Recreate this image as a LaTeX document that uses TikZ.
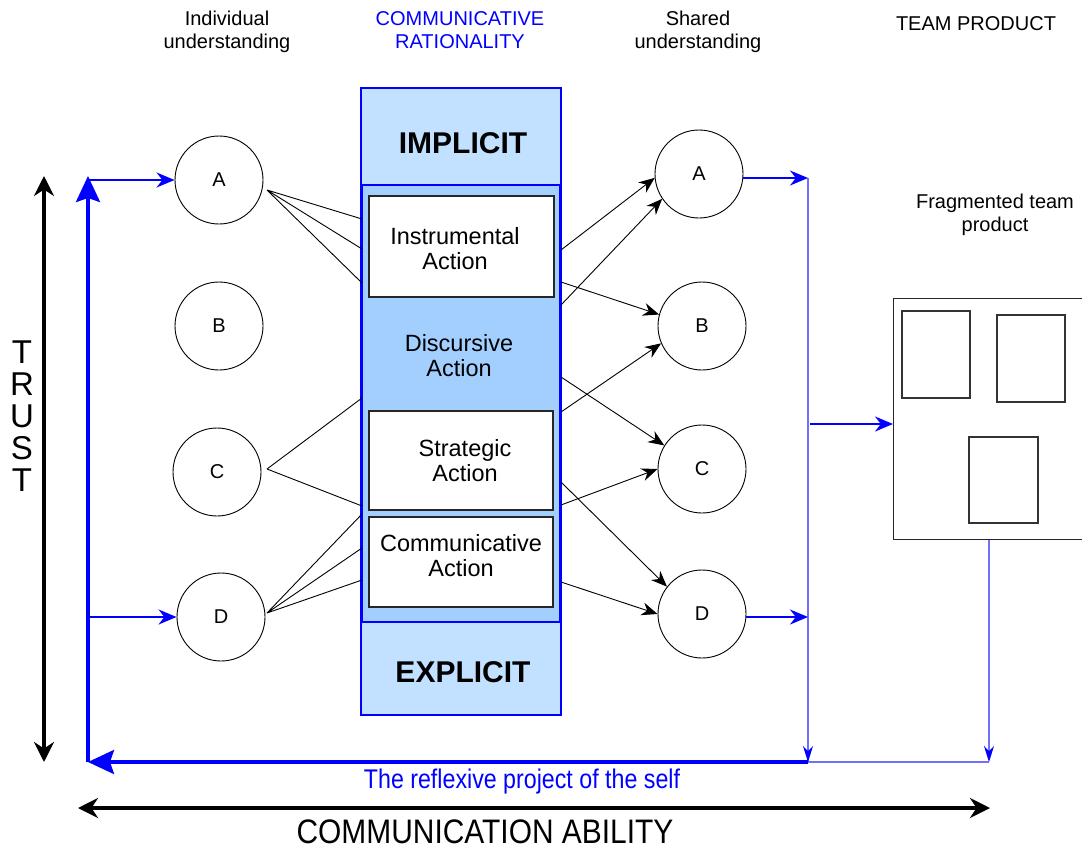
\documentclass[tikz,border=0pt]{standalone}
\usepackage{fontspec}
\setmainfont{Liberation Sans}
\usetikzlibrary{arrows.meta,calc}
\definecolor{colfill}{HTML}{A3CFFF}
\definecolor{hatchfill}{HTML}{C2E0FF}
\definecolor{lblue}{HTML}{7070FF}
\begin{document}
\begin{tikzpicture}[x=1pt,y=-1pt,
  circ/.style={circle,draw,line width=0.9pt,minimum size=88pt,inner sep=0pt,font=\fontsize{20}{23}\selectfont},
  actbox/.style={draw=black!85,line width=1.2pt,fill=white,inner sep=0pt},
  lbl/.style={align=center,font=\fontsize{20}{23}\selectfont},
  acttxt/.style={align=center,font=\fontsize{23.5}{25}\selectfont},
  bigtxt/.style={font=\fontsize{30}{32}\selectfont\bfseries},
  fan/.style={line width=0.9pt},
  blk/.style={line width=0.9pt,-{Stealth[length=16pt,width=13pt]}},
  bthick/.style={blue,line width=3.5pt},
  bmid/.style={blue,line width=2pt,-{Stealth[length=18pt,width=15pt]}},
  bthin/.style={lblue,line width=1.2pt},
  bthinarr/.style={lblue,line width=1.2pt,-{Stealth[length=16pt,width=10pt,color=blue]}},
  dbl/.style={line width=4pt,{Stealth[length=20pt,width=20pt]}-{Stealth[length=20pt,width=20pt]}},
  inbox/.style={draw=black!80,line width=1.2pt,inner sep=0pt}
]
\useasboundingbox (0,0) rectangle (1082,849);
\clip (0,0) rectangle (1082,849);

% headers
\node[lbl] (h1) at (227,32) {Individual\\understanding};
\node[lbl,text=blue] (h2) at (460,30) {COMMUNICATIVE\\RATIONALITY};
\node[lbl] (h3) at (698,32) {Shared\\understanding};
\node[lbl] (h4) at (976,24) {TEAM PRODUCT};

% central column
\fill[hatchfill] (361,88) rectangle (561,715);
\draw[blue,line width=2.5pt,fill=colfill] (362,185) rectangle (560,622);
\draw[blue,line width=2.5pt] (361,88) rectangle (561,715);
\node[bigtxt] (impl) at (463,143) {IMPLICIT};
\node[bigtxt] (expl) at (463,672) {EXPLICIT};

\node[actbox,minimum width=185pt,minimum height=101pt] (ibox) at (461.5,246.5) {};
\node[actbox,minimum width=184pt,minimum height=99pt] (sbox) at (461,460.5) {};
\node[actbox,minimum width=184pt,minimum height=90pt] (cbox) at (461,562) {};
\node[acttxt] (itxt) at (455,249) {Instrumental\\Action};
\node[acttxt] (dtxt) at (459,356) {Discursive\\Action};
\node[acttxt] (stxt) at (465,461) {Strategic\\Action};
\node[acttxt] (ctxt) at (461,556) {Communicative\\Action};

% circles
\node[circ] (la) at (219,180) {A};
\node[circ] (lb) at (219,326) {B};
\node[circ] (lc) at (217,472) {C};
\node[circ] (ld) at (221,617) {D};
\node[circ] (ra) at (699,174) {A};
\node[circ] (rb) at (702,326) {B};
\node[circ] (rc) at (702,469) {C};
\node[circ] (rd) at (702,614) {D};

% fan coordinates
\coordinate (fa) at (267,190);
\coordinate (a1) at (362,219);
\coordinate (a2) at (362,249);
\coordinate (a3) at (362,283);
\coordinate (fc) at (267,469);
\coordinate (c1) at (362,398);
\coordinate (c2) at (362,506);
\coordinate (fd) at (267,613);
\coordinate (d1) at (362,514);
\coordinate (d2) at (362,548);
\coordinate (d3) at (362,580);
\draw[fan] (fa) -- (a1) (fa) -- (a2) (fa) -- (a3);
\draw[fan] (fc) -- (c1) (fc) -- (c2);
\draw[fan] (fd) -- (d1) (fd) -- (d2) (fd) -- (d3);

% right arrows
\coordinate (s1) at (561,250);
\coordinate (s2) at (561,305);
\coordinate (s3) at (561,282);
\coordinate (s4) at (561,412);
\coordinate (s5) at (561,377);
\coordinate (s6) at (561,505);
\coordinate (s7) at (561,482);
\coordinate (s8) at (561,582);
\draw[blk] (s1) -- (ra.185);
\draw[blk] (s2) -- (ra.214);
\draw[blk] (s3) -- (rb.165);
\draw[blk] (s4) -- (rb.203);
\draw[blk] (s5) -- (rc.148);
\draw[blk] (s6) -- (rc.180);
\draw[blk] (s7) -- (rd.142);
\draw[blk] (s8) -- (rd.180);

% product
\node[draw=black!85,line width=1.2pt,minimum width=200pt,minimum height=241pt,anchor=north west,inner sep=0pt] (prod) at (893,298) {};
\node[inbox,minimum width=68pt,minimum height=87pt] (p1) at (936,354.5) {};
\node[inbox,minimum width=68pt,minimum height=87pt] (p2) at (1031,358.5) {};
\node[inbox,minimum width=69pt,minimum height=86pt] (p3) at (1003.5,480) {};
\node[lbl] (ftxt) at (995,215) {Fragmented team\\product};

% blue feedback structure
\coordinate (vt) at (808,178);
\coordinate (vb) at (808,762);
\coordinate (vd) at (808,617);
\coordinate (vm) at (810,424);
\coordinate (lt) at (88,180);
\coordinate (lbm) at (88,762);
\coordinate (ldl) at (86,617);
\coordinate (pb) at (989,762);
\draw[bthin] (vt) -- (vb) -- (pb);
\draw[bthinarr] (vt) -- (vb);
\draw[bthinarr] (prod.south -| pb) -- (pb);
\draw[bmid] (ra.east |- vt) -- (vt);
\draw[bmid] (rd.east |- vd) -- (vd);
\draw[bmid] (vm) -- (prod.west |- vm);
\draw[bthick,-{Stealth[length=26pt,width=24pt,inset=4pt]}] (vb) -- (lbm);
\draw[bthick,-{Stealth[length=26pt,width=24pt,inset=4pt]}] (lbm) -- (88,176);
\draw[bmid] (lt) -- (la.west);
\draw[bmid] (ldl) -- (ld.west);

% axes
\coordinate (ty) at (44,176);
\coordinate (by) at (44,762);
\draw[dbl] (ty) -- (by);
\coordinate (bx1) at (78,808);
\coordinate (bx2) at (990,808);
\draw[dbl] (bx1) -- (bx2);

\node[font=\fontsize{33}{33}\selectfont,align=center,inner sep=0pt] (trust) at (22,416) {T\\[-1pt]R\\[-1pt]U\\[-1pt]S\\[-1pt]T};
\node[text=blue,font=\fontsize{27}{28}\selectfont] (refl) at (522,782) {\scalebox{0.86}[1]{The reflexive project of the self}};
\node[font=\fontsize{34}{36}\selectfont] (cab) at (485,832) {\scalebox{0.88}[1]{COMMUNICATION ABILITY}};
\end{tikzpicture}
\end{document}
